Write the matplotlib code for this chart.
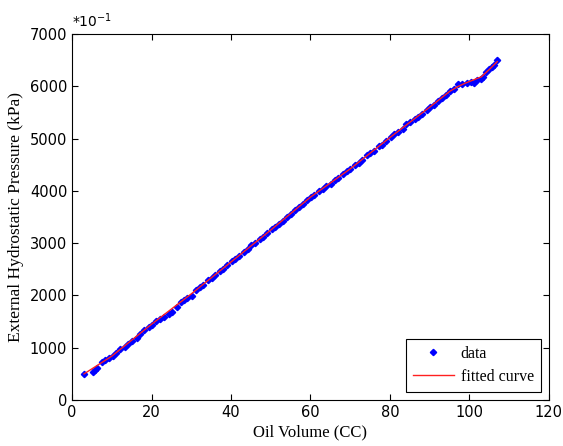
import numpy as np
import matplotlib.pyplot as plt

# --------------------------------------------------------------
# DATA
# --------------------------------------------------------------
oil_volume = [3.0, 5.2, 5.8, 6.3, 7.5, 8.4, 9.3, 10.2, 11.1, 12.0, 13.2, 14.1, 15.0,
              16.3, 17.2, 18.1, 19.3, 20.2, 21.0, 22.1, 23.2, 24.3, 25.1, 26.4, 27.3,
              28.2, 29.0, 30.1, 31.2, 32.1, 33.0, 34.2, 35.1, 36.0, 37.2, 38.1, 39.0,
              40.2, 41.1, 42.0, 43.3, 44.2, 45.1, 46.0, 47.2, 48.1, 49.0, 50.2, 51.1,
              52.0, 53.2, 54.1, 55.0, 56.2, 57.1, 58.0, 59.2, 60.1, 61.0, 62.2, 63.1,
              64.0, 65.2, 66.1, 67.0, 68.2, 69.1, 70.0, 71.2, 72.1, 73.0, 74.2, 75.1,
              76.0, 77.2, 78.1, 79.0, 80.2, 81.1, 82.0, 83.2, 84.1, 85.0, 86.2, 87.1,
              88.0, 89.2, 90.1, 91.0, 92.2, 93.1, 94.0, 95.2, 96.1, 97.0, 98.2, 99.5,
              100.4, 101.2, 102.0, 102.8, 103.5, 104.2, 104.9, 105.6, 106.3, 107.0]

pressure = [490, 540, 580, 610, 720, 760, 800, 850, 900, 980, 1010, 1080, 1130,
            1190, 1270, 1330, 1400, 1440, 1510, 1550, 1590, 1640, 1690, 1780, 1870,
            1920, 1950, 1990, 2100, 2160, 2200, 2290, 2340, 2390, 2460, 2510, 2580,
            2650, 2700, 2760, 2830, 2880, 2960, 3010, 3080, 3110, 3200, 3270, 3300,
            3370, 3430, 3500, 3560, 3640, 3690, 3740, 3820, 3880, 3920, 3990, 4040,
            4090, 4140, 4200, 4240, 4320, 4370, 4420, 4500, 4540, 4590, 4680, 4730,
            4770, 4850, 4880, 4960, 5030, 5080, 5130, 5190, 5270, 5310, 5380, 5420,
            5470, 5550, 5600, 5640, 5720, 5780, 5830, 5900, 5940, 6040, 6050, 6060,
            6080, 6070, 6120, 6140, 6170, 6280, 6320, 6360, 6400, 6500]

fit_volume = [3, 10, 20, 30, 40, 50, 60, 70, 80, 90, 95, 97, 99, 101, 103, 105, 107]
fit_pressure = [500, 840, 1450, 2030, 2640, 3250, 3880, 4420, 5020, 5600, 5900,
                5990, 6060, 6120, 6180, 6320, 6470]

x_ticks = [0, 20, 40, 60, 80, 100, 120]
y_ticks = [0, 1000, 2000, 3000, 4000, 5000, 6000, 7000]

# --------------------------------------------------------------
# PLOT
# --------------------------------------------------------------
fig = plt.figure(figsize=(5.63, 4.46), dpi=100)
ax = fig.add_axes([0.128, 0.103, 0.847, 0.821])

ax.plot(oil_volume, pressure, linestyle="none", marker="D", markersize=3.2,
        color="#0000ff", label="data")
ax.plot(fit_volume, fit_pressure, color="#ff2020", linewidth=1.0, label="fitted curve")

ax.set_xlim(0, 120)
ax.set_ylim(0, 7000)
ax.set_xticks(x_ticks)
ax.set_yticks(y_ticks)
ax.tick_params(direction="in", top=True, right=True, length=4, labelsize=10.5)
for lab in ax.get_xticklabels() + ax.get_yticklabels():
    lab.set_family("Liberation Sans Narrow")

ax.set_xlabel("Oil Volume (CC)", family="Liberation Serif", fontsize=12, labelpad=3)
ax.set_ylabel("External Hydrostatic Pressure (kPa)", family="Liberation Serif",
              fontsize=12.5, labelpad=4)

ax.text(0.0, 1.01, r"*10$^{\mathregular{-1}}$", transform=ax.transAxes, fontsize=10,
        family="Liberation Sans Narrow", ha="left", va="bottom")

leg = ax.legend(loc="lower right", prop={"family": "Liberation Serif", "size": 11.5},
                fancybox=False, edgecolor="black", framealpha=1, borderaxespad=0.5,
                handlelength=2.6, handletextpad=0.4, numpoints=1, borderpad=0.45,
                labelspacing=0.45)
leg.get_frame().set_linewidth(0.8)

fig.savefig("out.png", dpi=100)
